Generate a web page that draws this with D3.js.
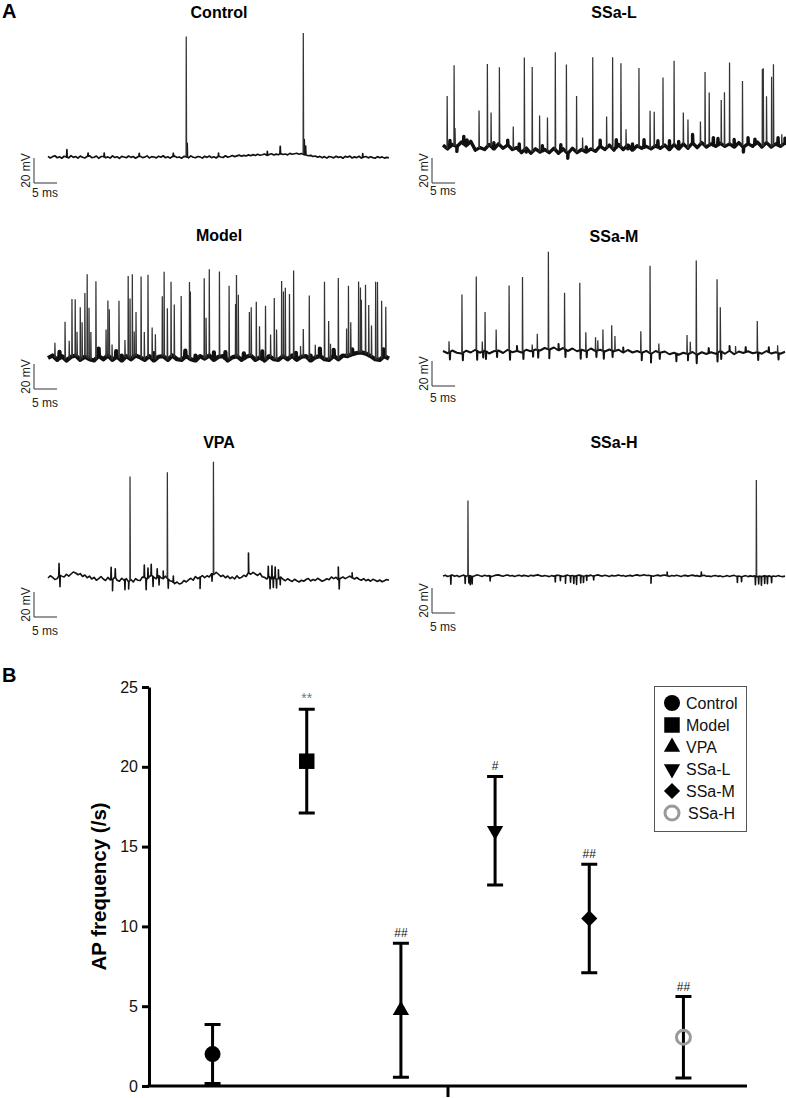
<!DOCTYPE html>
<html>
<head>
<meta charset="utf-8">
<script src="https://cdn.jsdelivr.net/npm/d3@7"></script>
<style>
  html, body { margin: 0; padding: 0; background: #fff; }
  svg { display: block; font-family: "Liberation Sans", Arial, Helvetica, sans-serif; }
</style>
</head>
<body>
<script>
// ---------------- DATA ----------------
// Panel A: traces (time in ms, voltage in mV relative to resting baseline)
const traceDuration = 74; // ms shown per trace

const controlBase = [0.5,-0.8,0.3,1.0,-0.6,0.2,-1.0,0.6,0.0,-0.7,1.1,-0.3,0.4,-0.9,0.7,-0.2,-0.8,0.5,1.0,-0.5,
  -0.2,0.8,-1.0,0.3,0.6,-0.6,0.1,-0.9,0.9,-0.4,0.2,-1.1,0.5,0.0,-0.6,0.8,-0.3,0.4,-1.0,0.2,
  0.7,-0.5,-0.1,0.9,-0.8,0.3,0.0,-0.7,0.6,-0.2,1.0,-0.6,0.2,-0.9,0.4,0.7,-0.4,0.0,-1.0,0.5,
  0.3,-0.7,0.9,-0.2,-0.6,0.4,0.1,-0.9,0.6,-0.3,0.8,-0.5,0.2,-0.8,0.6,0.0,-0.4,1.0,-0.2,0.4,
  1.2,0.3,0.9,1.5,0.6,1.3,0.8,1.7,1.0,1.9,1.2,2.2,1.4,1.8,2.4,1.3,2.0,2.6,1.6,2.3,
  1.8,2.7,2.0,2.4,1.7,2.9,2.2,2.6,3.0,2.2,2.8,2.0,1.6,1.0,1.3,0.4,0.8,-0.2,0.5,-0.6,
  0.3,-0.9,0.4,0.0,-0.7,0.6,-0.3,0.2,-1.0,0.5,-0.2,0.7,-0.8,0.1,-0.5,0.6,-0.9,0.0,0.4,-0.7,
  0.2,-0.5,-1.0,0.3,-0.6,0.1,-0.9,-0.3,-0.6];
const controlSpikes = [[30.0,96],[55.4,97]];
const controlBlips = [[4.1,6],[8.7,2.5],[12.2,3],[19.8,2.5],[27.2,2.5],[30.2,11],[37.0,2.5],[47.6,3],[50.4,6],[55.6,12],[55.9,7],[68.3,3]];

const ssalBase = [1.5,-1.5,2,0.5,4,1,4.5,-2.5,-0.5,-2,2,-1.5,2.5,-1,1.5,-2,-0.5,-4.5,-1,-5,-1.5,-4,-2,-4.5,-1,-5,-1.5,-5,-1,-4.5,-2,-4,-1.5,-3.5,0.5,-2,1.5,-2.5,2,-2,1.5,-2.5,1,-1,0.5,-1.5,1,-1,1.5,-2,2,-1.5,2.5,-1,3,-0.5,3.5,0,2.5,0.5,3,0.5,2.5,0,3.5,0,2.5,0.5,4,0,3.5,0,2.5,0.5,3];
const ssalSpikes = [[0.9,42],[2.4,64],[2.6,14],[7.8,30],[9.6,66],[10.4,27],[12.2,62],[15.2,18],[17.6,74],[19.3,68],[20.9,29],[22.6,27],[24.3,78],[26.7,70],[28.9,45],[30.2,10],[32.4,74],[35.4,25],[36.7,73],[38.5,67],[39.6,14],[42.4,63],[44.8,30],[45.7,28],[47.6,55],[50.0,67],[52.0,25],[53.0,23],[55.7,18],[56.7,59],[57.6,42],[60.2,35],[60.9,43],[62.0,65],[64.8,52],[69.1,62],[69.3,62],[70.0,37],[71.1,56],[71.5,65],[73.3,9]];
const ssalBlips = [[1.5,5],[3,-4],[4.5,6],[5.2,4],[11,5],[14,4],[16.5,5],[18,-3],[21.5,4],[25.5,5],[27,-4],[31,4],[34,5],[37.5,6],[40,-3],[41,5],[43.5,6],[46.5,5],[49,7],[51,6],[54,7],[58.5,6],[59.5,5],[63,6],[65,-4],[66,5],[67.5,4],[72.5,6],[74,4]];

const modelBase = [0,2,-1.5,1.5,-2,1,2,-1.5,1,-1,-2,1.5,-1,2,-1.5,1,-2,1.5,-1,2,0.5,-1.5,1.5,-2,1,1.5,-1.5,2,-1,-1.5,1.5,-1,-2,1.5,-0.5,2,-1.5,1,1.5,-2,0.5,1.5,-1.5,1,2,-1.5,0.5,-2,1.5,-1,-1.5,1.5,-1,2,-1.5,1,1.5,-2,0.5,1.5,-1,-1.5,1.5,-1,2,1.5,3,4,4.5,3.5,1.5,-1,-1.5,1.5,-0.5];
const modelSpikes = [[1.5,12],[3.7,30],[4.6,14],[5.2,46],[5.9,45],[6.3,20],[7.0,42],[7.4,29],[8.0,51],[8.5,67],[8.9,41],[9.3,22],[10.4,62],[12.6,22],[13.0,44],[13.3,38],[13.9,12],[15.4,46],[16.7,14],[17.4,65],[17.8,48],[18.3,67],[18.7,20],[19.1,35],[20.2,65],[20.9,22],[21.7,66],[22.6,25],[23.3,20],[24.8,48],[25.2,68],[25.9,41],[26.7,60],[27.4,42],[28.9,51],[30.7,61],[30.9,54],[33.9,64],[34.3,32],[35.0,69],[37.2,68],[39.3,59],[40.7,42],[40.9,65],[41.3,50],[43.7,35],[44.1,39],[45.2,46],[45.9,25],[47.2,43],[48.3,18],[49.1,49],[49.6,24],[50.7,61],[51.1,52],[51.5,56],[52.4,51],[53.3,69],[54.8,9],[55.4,22],[56.7,51],[58.0,10],[60.0,62],[60.9,31],[61.3,12],[63.0,65],[64.8,22],[65.2,56],[65.7,26],[67.4,57],[67.8,52],[68.0,42],[68.9,55],[69.6,40],[70.2,25],[71.1,62],[71.5,62],[72.4,46],[73.3,40]];
const modelBlips = [[2.5,5],[11,6],[14.8,5],[16,4],[23,6],[29.8,5],[32,4],[36,6],[38.5,5],[42.5,4],[46.5,6],[53.8,5],[57,4],[59,6],[62,5],[66,4],[72.8,6]];

const ssamBase = [0.8,-1,1.2,-0.6,-1.2,1,-0.4,1.8,-0.6,1.2,-1.2,0.6,1.2,-0.8,1.8,-0.2,0.8,-0.4,1.8,0.6,2,1.2,3.2,2,3.6,1.4,3.2,0.8,2.8,0.6,1.8,0.6,2.8,0.8,1.8,0.4,2,0.6,1.8,-0.4,1.6,-0.4,0.8,-0.6,0.9,-1.4,0.8,-0.6,0.4,-1.8,-0.6,-2.2,-0.6,-1.6,0,-2.2,-0.2,-1.6,-0.2,-1.4,0.8,-1.4,0.8,-1.8,0.4,-0.8,0.6,-1,-0.2,-1.4,0.8,-1.2,-0.2,-1.4,0.2];
const ssamSpikes = [[1.3,9],[4.1,47],[7.2,59],[8.5,8],[9.1,31],[11.5,17],[14.3,52],[17.2,60],[19.3,5],[20.4,13],[22.8,78],[26.3,45],[29.6,54],[30.9,15],[33.0,11],[33.5,8],[34.6,17],[36.5,20],[37.2,12],[42.8,17],[44.8,70],[46.7,7],[52.8,15],[53.5,9],[54.8,75],[59.3,59],[60.0,35],[63.3,6],[68.0,25],[72.4,6]];
const ssamBlips = [[1.5,-6],[4.3,-6],[7.4,-7],[8.7,-5],[9.3,-6],[11.7,-5],[14.5,-7],[16,4],[17.4,-6],[19.5,-5],[20.6,-6],[23,-7],[25,5],[26.5,-6],[29.8,-7],[31.1,-5],[33.2,-5],[34.8,-6],[36.7,-5],[39,4],[43,-6],[45,-7],[46.9,-5],[50.5,-6],[53,-5],[54.9,-7],[57.5,4],[59.4,-7],[60.2,-6],[62,4],[65.5,4],[68.2,-6],[70.5,4],[72.6,-5]];

const vpaBase = [0,1.8,0.5,-1.2,-0.5,2.2,1.5,0.8,3.0,1.5,3.2,4.8,4.0,2.6,3.5,1.2,2.4,0.2,1.5,-0.8,
  0.5,-1.8,-0.5,1.2,-0.8,-2.0,0.5,-1.5,-1.2,0.8,-1.8,-2.6,-0.2,-1.8,-0.5,-2.8,-1.2,-3.2,-0.5,-1.8,
  -2.0,0.8,0.3,-0.8,1.2,2.2,0.5,-0.6,1.8,0.2,-0.5,1.5,-0.8,-2.2,-2.8,-4.5,-3.2,-4.8,-4.2,-2.0,
  -3.2,-1.5,-0.2,-1.8,1.2,-0.5,0.6,2.0,0.2,1.8,0.8,3.5,2.8,4.5,3.0,1.2,2.2,0.2,1.6,-0.4,
  0.8,-0.8,1.8,-0.2,0.5,2.2,1.2,4.0,3.0,4.5,3.2,2.0,3.8,1.0,0.5,-0.8,1.2,-0.6,0.8,-1.0,
  -0.5,0.8,-1.0,-2.2,-0.6,-1.8,-2.8,-1.0,-2.2,-3.2,-1.8,-2.6,-1.2,-0.4,-2.4,-1.2,-2.0,-0.2,-1.4,-2.6,
  -1.8,-0.6,-1.4,0.8,-0.5,0.6,-1.2,-0.2,0.8,-0.5,0.5,1.5,0.2,-0.8,0.4,-1.0,-1.8,-0.5,-2.2,-1.2,
  -2.6,-1.0,-1.8,-2.8,-1.6,-3.0,-2.2,-1.2,-1.8];
const vpaSpikes = [[17.8,83],[25.9,85],[35.9,90]];
const vpaBlips = [[2.4,10],[2.6,-9],[13.7,10],[14.0,-9],[14.6,7],[16.7,-8],[17.5,-6],[20.9,10],[21.3,-9],[21.7,8],[22.4,9],[22.8,-8],[23.7,7],[24.1,-7],[25.0,6],[26.1,-7],[27.2,5],[33.0,-9],[35.6,-6],[43.5,16],[47.8,9],[48.2,-9],[48.6,10],[48.9,-8],[49.3,9],[49.6,-7],[50.0,7],[50.4,-6],[63.0,10],[63.2,-8],[66.0,4]];

const ssahBase = [0,0.6,-0.4,0.3,0.8,-0.2,0.4,-0.6,0.2,0.7,-0.3,0.5,0,-0.5,0.4,0.9,0.2,-0.3,0.6,0,
  0.3,-0.5,0.2,0.7,0.9,0.3,-0.2,0.5,0.8,0,0.4,-0.4,0.3,0.6,-0.1,0.5,0.2,-0.3,0.6,0.1,
  0.5,0.9,0.3,-0.2,0.4,0,-0.5,0.3,-0.2,0.5,0.6,0.1,-0.4,0.3,0.7,0,0.4,-0.2,0.3,0.8,
  0.2,-0.3,0.5,0.1,0.7,-0.2,0.4,0.9,0.3,-0.1,0.6,0.2,-0.4,0.5,0,0.3,0.8,0.1,0.4,-0.3,
  0.2,0.5,-0.1,0.6,0.9,0.3,0.5,1.0,0.4,0.6,0.2,-0.2,0.4,0.7,0.1,0.5,0.8,0.2,-0.3,0.4,
  0,0.6,0.2,-0.4,0.3,0.5,-0.1,0.4,0.7,0.1,0.3,-0.3,0.2,0.6,-0.2,0,-0.5,0.2,0.4,-0.3,
  0.1,-0.6,-0.2,0.3,-0.4,0.2,0.5,-0.3,0,-0.6,
  -0.2,0.3,-0.5,0.1,-0.3,0.2,-0.6,-0.1,-0.4,0.2,-0.3,0.1,-0.5,0,-0.4,0.3,-0.2,-0.5,-0.1];
const ssahSpikes = [[5.4,60],[67.8,77]];
const ssahBlips = [[1.7,-7],[4.8,-6],[5.6,-6],[5.9,-7],[6.3,-6],[10.2,-4],[24.3,-5],[25.4,-4],[26.5,-6],[27.6,-5],[28.3,-6],[28.9,-7],[29.8,-6],[30.4,-5],[31.1,-4],[32.6,-3],[45.0,-6],[48.5,3],[55.9,3],[63.7,-5],[64.6,-4],[67.6,-7],[68.3,-6],[68.9,-7],[69.6,-6],[70.2,-6],[71.1,-5]];

const scaleBarMv = 20;
const scaleBarMs = 5;

// Panel B: AP frequency
const groups = ["Control","Model","VPA","SSa-L","SSa-M","SSa-H"];
const apMean = [2.0, 20.35, 4.75, 16.0, 10.5, 3.05];
const apSD   = [1.85, 3.25, 4.2, 3.4, 3.4, 2.55];
const apSig  = ["", "**", "##", "#", "##", "##"];
const yTicks = [0,5,10,15,20,25];
const yLabel = "AP frequency (/s)";

// ---------------- DRAW ----------------
const W = 786, H = 1098;
const svg = d3.select("body").append("svg").attr("width", W).attr("height", H);
const FONT = '"Liberation Sans", Arial, Helvetica, sans-serif';
const PX_PER_MV = 1.25;

const panels = [
  {title:"Control", base:controlBase, spikes:controlSpikes, blips:controlBlips, x0:48, x1:389, yb:157, bar:[34,183], tx:219, ty:18, msY:197, bw:1.7},
  {title:"SSa-L", base:ssalBase, spikes:ssalSpikes, blips:ssalBlips, x0:443, x1:785, yb:147, bar:[432,183], tx:614, ty:18, msY:195, bw:3.4},
  {title:"Model", base:modelBase, spikes:modelSpikes, blips:modelBlips, x0:48, x1:389, yb:358, bar:[34,389], tx:219, ty:241, msY:407, bw:4.2},
  {title:"SSa-M", base:ssamBase, spikes:ssamSpikes, blips:ssamBlips, x0:443, x1:785, yb:352, bar:[432,386], tx:614, ty:242, msY:402, bw:2.0},
  {title:"VPA", base:vpaBase, spikes:vpaSpikes, blips:vpaBlips, x0:48, x1:389, yb:578, bar:[34,617], tx:219, ty:448, msY:635, bw:1.6},
  {title:"SSa-H", base:ssahBase, spikes:ssahSpikes, blips:ssahBlips, x0:443, x1:785, yb:576, bar:[432,613], tx:614, ty:448, msY:631, bw:1.6}
];

svg.append("text").attr("x", 2).attr("y", 18).attr("font-size", 20).attr("font-weight", "bold")
  .attr("font-family", FONT).text("A");

panels.forEach(p => {
  const g = svg.append("g");
  const x = d3.scaleLinear().domain([0, traceDuration]).range([p.x0, p.x1]);
  const y = d3.scaleLinear().domain([0, 1]).range([p.yb, p.yb - PX_PER_MV]);
  const baseT = p.base.map((v, i) => i * traceDuration / (p.base.length - 1));
  const baseAt = d3.scaleLinear().domain(baseT).range(p.base);
  let pts = p.base.map((v, i) => [baseT[i], v]);
  p.blips.forEach(([t, h]) => {
    const b = baseAt(t);
    pts.push([t - 0.07, b], [t, b + h], [t + 0.07, b]);
  });
  pts.sort((a, b) => a[0] - b[0]);
  const line = d3.line().x(d => x(d[0])).y(d => y(d[1]));
  g.append("path").attr("d", line(pts)).attr("fill", "none")
    .attr("stroke", "#111").attr("stroke-width", p.bw).attr("stroke-linejoin", "round");
  // spikes
  g.selectAll("path.spike").data(p.spikes).join("path").attr("class", "spike")
    .attr("d", ([t, h]) => { const b = baseAt(t); return line([[t - 0.04, b], [t, b + h], [t + 0.08, b]]); })
    .attr("fill", "none").attr("stroke", "#333").attr("stroke-width", 1.25);
  // title
  g.append("text").attr("x", p.tx).attr("y", p.ty).attr("text-anchor", "middle")
    .attr("font-size", 16).attr("font-weight", "bold").attr("font-family", FONT).text(p.title);
  // scale bar
  const [cx, cy] = p.bar;
  const hLen = x(scaleBarMs) - x(0);
  const vLen = y(0) - y(scaleBarMv);
  g.append("path").attr("d", `M${cx},${cy - vLen}V${cy}H${cx + hLen}`)
    .attr("fill", "none").attr("stroke", "#333").attr("stroke-width", 1);
  g.append("text").attr("transform", `translate(${cx - 4},${cy - vLen / 2}) rotate(-90)`)
    .attr("text-anchor", "middle").attr("font-size", 12).attr("font-family", FONT).attr("fill", "#222")
    .text(scaleBarMv + " mV");
  g.append("text").attr("x", cx - 2).attr("y", p.msY).attr("font-size", 12).attr("font-family", FONT)
    .attr("fill", "#222").text(scaleBarMs + " ms");
});

// ---------------- Panel B ----------------
svg.append("text").attr("x", 2).attr("y", 682).attr("font-size", 20).attr("font-weight", "bold")
  .attr("font-family", FONT).text("B");

const bx = d3.scalePoint().domain(groups).range([149, 747]).padding(0.675);
const by = d3.scaleLinear().domain([0, 25]).range([1086, 687]);

const yAxis = svg.append("g").attr("transform", "translate(149,0)")
  .call(d3.axisLeft(by).tickValues(yTicks).tickSize(7).tickSizeOuter(0).tickPadding(4));
yAxis.select(".domain").attr("stroke", "#000").attr("stroke-width", 3);
yAxis.selectAll(".tick line").attr("stroke", "#000").attr("stroke-width", 3);
yAxis.selectAll(".tick text").attr("font-size", 16).attr("font-family", FONT).attr("fill", "#111");

// x axis baseline with single centre tick
svg.append("line").attr("x1", 147.5).attr("x2", 747).attr("y1", by(0)).attr("y2", by(0))
  .attr("stroke", "#000").attr("stroke-width", 3);
svg.append("line").attr("x1", (149 + 747) / 2).attr("x2", (149 + 747) / 2)
  .attr("y1", by(0)).attr("y2", by(0) + 11).attr("stroke", "#000").attr("stroke-width", 3);

svg.append("text").attr("transform", `translate(106,${(687 + 1086) / 2}) rotate(-90)`)
  .attr("text-anchor", "middle").attr("font-size", 20.5).attr("font-weight", "bold")
  .attr("font-family", FONT).text(yLabel);

const pts = groups.map((gname, i) => ({ g: gname, m: apMean[i], sd: apSD[i], sig: apSig[i] }));
const eb = svg.append("g");
pts.forEach(d => {
  const cx = bx(d.g), top = by(d.m + d.sd), bot = by(d.m - d.sd);
  eb.append("path").attr("d", `M${cx},${top}V${bot}M${cx - 8},${top}H${cx + 8}M${cx - 8},${bot}H${cx + 8}`)
    .attr("stroke", "#000").attr("stroke-width", 3).attr("fill", "none");
  if (d.sig) {
    eb.append("text").attr("x", cx).attr("y", top - 6).attr("text-anchor", "middle")
      .attr("font-size", d.sig === "**" ? 14 : 12).attr("font-family", FONT)
      .attr("fill", d.sig === "**" ? "#777" : "#111").text(d.sig);
  }
});

function drawMarker(sel, name, cx, cy) {
  const tf = `translate(${cx},${cy})`;
  if (name === "Control") sel.append("circle").attr("cx", cx).attr("cy", cy).attr("r", 8).attr("fill", "#000");
  else if (name === "Model") sel.append("path").attr("d", d3.symbol(d3.symbolSquare, 240)()).attr("transform", tf).attr("fill", "#000");
  else if (name === "VPA") sel.append("path").attr("d", d3.symbol(d3.symbolTriangle, 115)()).attr("transform", tf).attr("fill", "#000");
  else if (name === "SSa-L") sel.append("path").attr("d", d3.symbol(d3.symbolTriangle, 115)()).attr("transform", tf + " rotate(180)").attr("fill", "#000");
  else if (name === "SSa-M") sel.append("path").attr("d", d3.symbol(d3.symbolSquare, 130)()).attr("transform", tf + " rotate(45)").attr("fill", "#000");
  else sel.append("circle").attr("cx", cx).attr("cy", cy).attr("r", 7).attr("fill", "none")
    .attr("stroke", "#9a9a9a").attr("stroke-width", 3);
}
const mk = svg.append("g");
pts.forEach(d => drawMarker(mk, d.g, bx(d.g), by(d.m)));

// legend
const lg = svg.append("g");
lg.append("rect").attr("x", 654.5).attr("y", 686.5).attr("width", 92).attr("height", 145)
  .attr("fill", "#fff").attr("stroke", "#555").attr("stroke-width", 1);
groups.forEach((gname, i) => {
  const cy = 703 + i * 22;
  drawMarker(lg, gname, 672, cy);
  lg.append("text").attr("x", gname === "SSa-H" ? 688 : 686).attr("y", cy + 6)
    .attr("font-size", 16).attr("font-family", FONT).attr("fill", "#111").text(gname);
});
</script>
</body>
</html>
